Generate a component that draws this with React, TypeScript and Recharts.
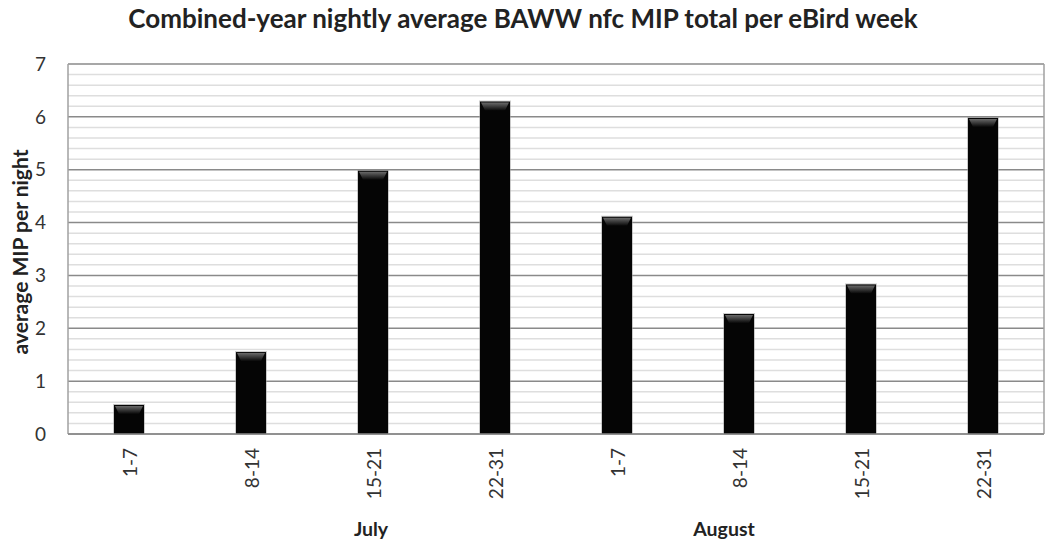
import React from 'react';
import { BarChart, Bar, XAxis, YAxis, CartesianGrid } from 'recharts';

const weeks = ['1-7', '8-14', '15-21', '22-31', '1-7', '8-14', '15-21', '22-31'];
const months = ['', '', 'July', '', '', 'August', '', ''];
const mipPerNight = [0.55, 1.55, 4.98, 6.29, 4.11, 2.27, 2.83, 5.98];
const majorTicks = [0, 1, 2, 3, 4, 5, 6, 7];
const minorTicks = [
  0.2, 0.4, 0.6, 0.8, 1.2, 1.4, 1.6, 1.8, 2.2, 2.4, 2.6, 2.8, 3.2, 3.4, 3.6, 3.8,
  4.2, 4.4, 4.6, 4.8, 5.2, 5.4, 5.6, 5.8, 6.2, 6.4, 6.6, 6.8,
];

const data = weeks.map((w, i) => ({ week: w, month: months[i], value: mipPerNight[i] }));

const FONT = 'Lato, "Open Sans", sans-serif';

const BevelBar = (props: any) => {
  const { x, y, width, height } = props;
  if (height <= 0) return null;
  const bh = Math.min(9, height);
  return (
    <g>
      <rect x={x - 1} y={y - 1} width={width + 2} height={height + 1} fill="#9a9a9a" opacity={0.5} />
      <rect x={x} y={y} width={width} height={height} fill="#050505" />
      <polygon
        points={`${x + 1},${y + 1} ${x + width - 1},${y + 1} ${x + width - 5},${y + bh} ${x + 5},${y + bh}`}
        fill="url(#bevelGrad)"
      />
    </g>
  );
};

const WeekTick = (props: any) => {
  const { x, y, payload, index } = props;
  const m = months[index];
  return (
    <g>
      <g transform={`translate(${x},${y})`}>
        <text
          transform="rotate(-90)"
          x={0}
          y={0}
          textAnchor="end"
          dominantBaseline="central"
          fontFamily={FONT}
          fontSize={19}
          fill="#333"
        >
          {payload.value}
        </text>
      </g>
      {m ? (
        <text
          x={x + (m === 'August' ? -15 : -2)}
          y={y + 88}
          textAnchor="middle"
          fontFamily={FONT}
          fontSize={19.5}
          fontWeight="bold"
          fill="#222"
        >
          {m}
        </text>
      ) : null}
    </g>
  );
};

const YLabel = (props: any) => {
  const { viewBox } = props;
  const cx = 19;
  const cy = viewBox.y + viewBox.height / 2 + 3;
  return (
    <text
      x={cx}
      y={cy}
      transform={`rotate(-90, ${cx}, ${cy})`}
      textAnchor="middle"
      dominantBaseline="central"
      fontFamily={FONT}
      fontSize={21}
      fontWeight="bold"
      fill="#222"
    >
      average MIP per night
    </text>
  );
};

export default function App() {
  return (
    <div style={{ position: 'absolute', left: 0, top: 0, width: 1046, height: 541, background: '#fff' }}>
      <div
        style={{
          position: 'absolute',
          left: 0,
          top: 2,
          width: 1046,
          textAlign: 'center',
          fontFamily: FONT,
          fontWeight: 'bold',
          fontSize: 26,
          color: '#222',
        }}
      >
        Combined-year nightly average BAWW nfc MIP total per eBird week
      </div>
      <BarChart
        width={1046}
        height={541}
        data={data}
        margin={{ top: 64, right: 1, bottom: 0, left: 0 }}
        barCategoryGap={0}
        style={{ position: 'absolute', left: 0, top: 0 }}
      >
        <defs>
          <linearGradient id="bevelGrad" x1="0" y1="0" x2="0" y2="1">
            <stop offset="0%" stopColor="#6a6a6a" />
            <stop offset="100%" stopColor="#080808" />
          </linearGradient>
        </defs>
        <CartesianGrid
          yAxisId="major"
          vertical={false}
          horizontalValues={minorTicks}
          stroke="#dedede"
          strokeWidth={1.5}
        />
        <CartesianGrid
          yAxisId="major"
          vertical={false}
          horizontalValues={majorTicks}
          stroke="#8a8a8a"
          strokeWidth={1.5}
        />
        <YAxis
          yAxisId="major"
          domain={[0, 7]}
          ticks={majorTicks}
          interval={0}
          width={68}
          tickSize={0}
          tickMargin={22}
          axisLine={{ stroke: '#a0a0a0', strokeWidth: 1.5 }}
          tickLine={false}
          tick={{ fontFamily: FONT, fontSize: 19, fill: '#333' }}
          label={<YLabel />}
        />
        <YAxis
          yAxisId="right"
          orientation="right"
          domain={[0, 7]}
          width={1}
          tick={false}
          tickLine={false}
          axisLine={{ stroke: '#a0a0a0', strokeWidth: 1.5 }}
        />
        <XAxis
          dataKey="week"
          height={107}
          interval={0}
          tickSize={0}
          tickMargin={14}
          tickLine={false}
          axisLine={{ stroke: '#8a8a8a', strokeWidth: 1.5 }}
          tick={<WeekTick />}
        />
        <Bar
          yAxisId="major"
          dataKey="value"
          barSize={30}
          shape={<BevelBar />}
          isAnimationActive={false}
        />
      </BarChart>
    </div>
  );
}
